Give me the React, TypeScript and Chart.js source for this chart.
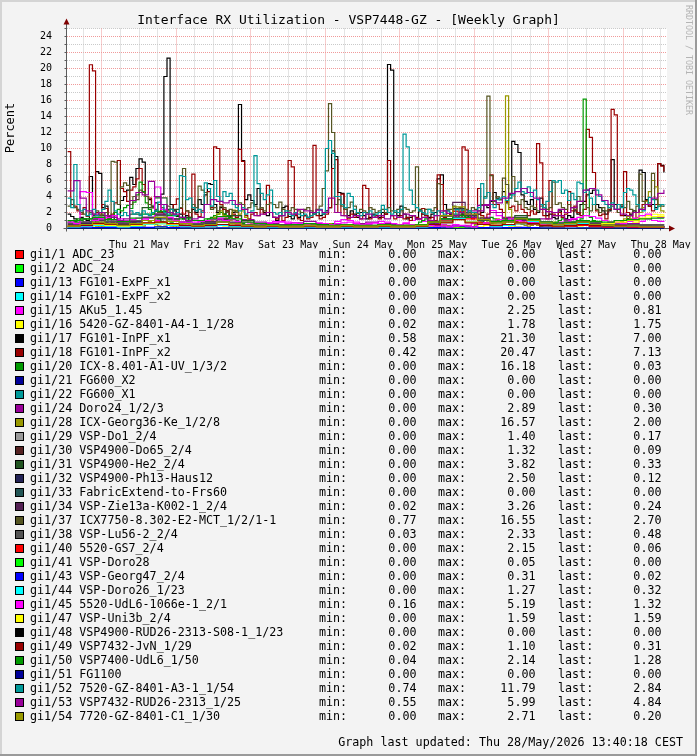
import React, { useEffect, useRef } from "react";
import { Chart, registerables } from "chart.js";

Chart.register(...registerables);

const W = 697;
const H = 756;
const FONT = '"DejaVu Sans Mono", "Liberation Mono", monospace';

const TITLE = "Interface RX Utilization - VSP7448-GZ - [Weekly Graph]";
const Y_LABEL = "Percent";
const WATERMARK = "RRDTOOL / TOBI OETIKER";
const UPDATED = "Graph last updated: Thu 28/May/2026 13:40:18 CEST";

// x axis: hours relative to Thu 21 May 00:00
const X_MIN = -11.2;
const X_MAX = 182;
const DATA_START = -11;
const DATA_SPAN = 192;
const DAY_LABEL_HOURS = [12, 36, 60, 84, 108, 132, 156, 180];
const DAY_LABELS = ["Thu 21 May", "Fri 22 May", "Sat 23 May", "Sun 24 May", "Mon 25 May", "Tue 26 May", "Wed 27 May", "Thu 28 May"];
const Y_TICKS = [0, 2, 4, 6, 8, 10, 12, 14, 16, 18, 20, 22, 24];
const Y_MAX = 25;

// hourly series (193 points from -11h to +181h)
const G17 = [
  1.8, 1.5, 1.2, 1.0, 1.4, 1.2, 1.0, 6.5, 1.6, 7.1, 6.9,
  2.6, 2.8, 1.5, 1.1, 2.0, 1.2, 3.5, 4.0, 4.8, 6.4, 5.5, 7.5, 8.7, 8.3, 4.0, 3.6, 2.8, 3.2, 2.0, 4.3, 19.0, 21.3, 3.0, 2.2,
  1.5, 1.8, 1.2, 1.6, 1.0, 2.4, 2.0, 3.6, 3.0, 4.2, 5.6, 5.5, 3.0, 2.0, 2.6, 1.8, 2.2, 1.5, 2.0, 2.2, 15.5, 8.5, 3.6, 4.2,
  3.5, 3.0, 5.0, 2.4, 2.0, 1.6, 2.0, 1.4, 1.0, 1.6, 2.6, 2.8, 1.5, 1.2, 1.8, 1.4, 2.0, 1.6, 1.4, 2.0, 1.8, 2.0, 1.6, 1.8,
  2.2, 2.6, 9.7, 9.0, 4.5, 4.4, 2.4, 1.6, 2.2, 1.8, 1.4, 2.0, 1.6, 1.2, 1.4, 1.8, 1.6, 1.4, 2.0, 1.8, 20.5, 19.8, 2.0, 1.6,
  2.8, 1.8, 1.2, 1.4, 1.6, 1.2, 2.2, 1.8, 1.6, 1.4, 1.8, 2.0, 6.2, 6.7, 3.0, 1.6, 1.8, 1.4, 1.6, 1.2, 1.8, 1.4, 1.6, 2.0,
  1.4, 1.8, 2.0, 3.0, 2.6, 3.4, 4.5, 3.8, 3.6, 4.6, 3.2, 4.2, 10.9, 10.5, 9.5, 4.2, 3.4, 3.0, 3.6, 2.4, 2.0, 3.8, 2.6, 1.6,
  1.8, 1.4, 1.2, 2.2, 1.4, 1.2, 1.6, 1.4, 2.2, 1.8, 3.0, 3.4, 4.2, 4.4, 4.8, 3.0, 2.6, 2.2, 1.8, 2.2, 8.6, 3.0, 2.4, 2.8,
  1.6, 1.2, 1.8, 2.2, 2.0, 7.3, 7.0, 3.6, 2.8, 3.0, 2.6, 8.1, 7.9, 7.0,
];
const G18 = [
  9.6, 3.0, 2.8, 2.2, 1.8, 2.6, 1.5, 20.47, 19.7, 2.0, 1.8,
  3.0, 2.5, 1.2, 1.8, 3.2, 8.5, 5.0, 4.6, 3.4, 4.8, 5.2, 6.2, 7.5, 5.5, 4.0, 3.8, 2.6, 2.2, 3.0, 2.0, 1.6, 2.2, 1.8, 3.0,
  3.7, 2.5, 1.8, 2.2, 1.4, 6.8, 1.8, 1.5, 2.2, 3.0, 4.6, 2.6, 10.2, 10.0, 3.0, 2.4, 2.2, 1.6, 1.8, 1.4, 9.9, 8.4, 1.6, 1.2,
  1.8, 2.0, 1.6, 2.4, 1.8, 5.4, 2.0, 1.4, 1.2, 1.6, 1.0, 1.4, 8.5, 7.7, 1.6, 1.2, 1.0, 1.6, 1.2, 1.4, 10.4, 1.6, 1.2, 1.4,
  1.8, 2.6, 7.5, 8.6, 2.0, 4.3, 1.6, 1.2, 1.8, 1.4, 1.6, 1.2, 5.4, 5.0, 1.2, 1.4, 1.6, 1.2, 1.4, 1.8, 8.5, 1.6, 1.2, 1.4,
  1.6, 1.2, 1.4, 1.0, 1.6, 1.4, 1.2, 2.5, 1.6, 1.2, 1.4, 1.0, 6.7, 5.5, 1.4, 2.2, 1.6, 1.2, 1.6, 1.2, 10.2, 9.8, 1.6, 1.2,
  1.8, 5.0, 1.6, 1.2, 1.8, 6.7, 3.0, 3.0, 2.4, 2.0, 3.4, 2.6, 2.8, 2.2, 3.0, 2.4, 2.0, 1.6, 2.2, 1.8, 10.6, 8.2, 1.6, 1.2,
  6.0, 1.8, 1.6, 2.0, 1.4, 1.8, 4.6, 2.2, 2.8, 2.0, 1.6, 2.4, 12.4, 11.4, 7.0, 2.2, 1.6, 1.8, 1.2, 2.4, 14.9, 14.2, 2.0, 1.6,
  7.1, 2.0, 1.6, 1.2, 2.0, 2.4, 3.0, 3.5, 2.8, 2.2, 3.0, 8.1, 7.8, 7.13,
];
const G52 = [
  3.8, 2.6, 8.0, 3.0, 2.2, 2.4, 1.6, 1.8, 2.4, 1.6, 2.0,
  2.4, 3.4, 4.8, 3.4, 2.2, 1.8, 1.6, 2.0, 1.6, 2.2, 1.8, 2.0, 1.6, 2.2, 1.8, 1.6, 2.0, 2.2, 3.3, 3.0, 2.0, 1.8, 2.4, 1.6,
  2.0, 6.6, 6.5, 3.6, 3.8, 2.6, 2.2, 2.4, 2.0, 5.7, 5.0, 2.8, 6.0, 4.0, 3.4, 4.6, 4.0, 4.4, 3.0, 2.6, 2.2, 2.6, 1.8, 2.0,
  2.2, 9.1, 5.6, 4.4, 3.6, 4.2, 4.8, 2.0, 1.8, 2.0, 1.6, 2.2, 1.8, 1.6, 2.0, 1.8, 1.6, 1.8, 1.4, 1.6, 1.8, 2.0, 2.4, 1.8,
  10.0, 11.0, 9.4, 4.0, 4.0, 3.0, 2.6, 4.4, 4.0, 2.4, 2.0, 1.6, 2.0, 1.8, 2.2, 1.6, 1.8, 2.0, 2.9, 2.4, 2.0, 1.8, 2.2, 2.0,
  2.4, 11.79, 10.2, 4.8, 3.0, 2.6, 2.2, 2.0, 1.8, 2.4, 2.0, 1.6, 2.2, 2.0, 1.8, 2.2, 2.0, 1.6, 2.4, 2.0, 2.3, 1.8, 2.2, 2.0,
  2.0, 2.6, 5.6, 3.8, 4.5, 3.0, 2.6, 3.6, 3.8, 4.0, 3.5, 3.8, 4.2, 5.0, 5.8, 4.6, 4.4, 5.2, 4.0, 4.8, 3.6, 3.0, 2.6, 3.4,
  4.6, 6.0, 5.8, 6.0, 4.4, 4.8, 3.5, 4.4, 3.6, 5.8, 5.6, 4.5, 4.8, 3.8, 3.0, 4.8, 4.0, 3.4, 3.0, 2.6, 3.2, 2.4, 3.0, 2.6,
  4.5, 5.0, 4.8, 4.2, 3.0, 2.4, 2.2, 3.0, 3.9, 3.6, 2.4, 2.8, 3.0, 2.84,
];
const G37 = [
  2.8, 3.6, 2.6, 2.4, 2.0, 1.8, 1.6, 2.0, 1.8, 2.2, 1.6,
  1.8, 2.0, 1.6, 8.4, 8.3, 3.0, 5.2, 5.7, 5.4, 3.0, 4.0, 3.6, 4.8, 4.5, 4.0, 3.0, 2.6, 2.4, 2.0, 2.6, 2.2, 2.8, 2.4, 1.8,
  2.0, 2.6, 7.5, 2.2, 2.0, 3.0, 2.6, 5.3, 4.8, 4.5, 3.0, 2.4, 2.6, 2.2, 2.8, 2.6, 2.0, 2.4, 2.2, 2.0, 3.2, 3.0, 2.4, 2.6,
  3.2, 2.8, 2.4, 2.6, 2.2, 3.0, 3.2, 3.0, 2.6, 3.3, 2.4, 2.0, 2.2, 2.6, 2.4, 2.2, 2.0, 2.4, 2.6, 2.2, 2.0, 2.4, 2.8, 5.0,
  7.2, 15.6, 12.0, 3.0, 3.6, 2.8, 2.4, 2.6, 3.3, 2.8, 1.9, 2.4, 2.2, 2.0, 2.6, 2.4, 2.0, 2.2, 2.4, 2.0, 2.6, 2.2, 2.0, 2.4,
  2.2, 2.6, 2.4, 2.0, 2.2, 7.7, 2.4, 2.0, 2.4, 2.4, 2.2, 2.6, 5.6, 2.0, 2.2, 2.4, 2.4, 2.8, 2.4, 2.6, 2.2, 2.4, 2.0, 2.6,
  2.4, 2.2, 3.0, 4.0, 16.55, 6.6, 3.4, 4.0, 3.6, 6.3, 5.5, 3.8, 6.5, 3.4, 3.0, 3.6, 2.6, 2.4, 2.8, 2.6, 2.2, 2.8, 3.0, 2.4,
  2.6, 5.8, 3.0, 3.2, 2.6, 2.4, 3.0, 2.6, 2.4, 4.0, 3.4, 3.0, 2.6, 2.2, 3.0, 2.4, 2.0, 2.6, 2.2, 3.0, 2.8, 2.4, 2.0, 3.0,
  2.6, 3.4, 2.4, 2.0, 2.8, 6.8, 3.4, 3.0, 3.2, 6.9, 3.6, 3.0, 2.8, 2.7,
];
const G20 = [
  0.8, 1.0, 0.9, 1.2, 1.0, 0.8, 0.6, 0.9, 1.1, 0.8, 0.6,
  0.5, 0.8, 1.2, 1.6, 2.0, 2.4, 2.2, 2.6, 2.9, 2.5, 3.3, 4.2, 5.8, 4.6, 3.2, 2.4, 1.8, 1.4, 1.2, 0.9, 0.8, 0.6, 0.7, 0.5,
  0.4, 0.5, 0.6, 0.8, 0.6, 0.5, 0.4, 0.6, 0.8, 1.0, 1.2, 1.4, 1.6, 1.8, 2.0, 1.8, 1.6, 1.4, 1.2, 1.0, 0.8, 0.6, 0.5, 0.4,
  0.3, 0.4, 0.3, 0.2, 0.3, 0.4, 0.3, 0.2, 0.3, 0.2, 0.3, 0.4, 0.3, 0.2, 0.2, 0.3, 0.2, 0.3, 0.2, 0.2, 0.3, 0.2, 0.2, 0.3,
  0.4, 0.5, 0.6, 0.4, 0.3, 0.2, 0.3, 0.2, 0.2, 0.3, 0.2, 0.2, 0.3, 0.2, 0.2, 0.2, 0.3, 0.2, 0.2, 0.3, 0.2, 0.2, 0.2, 0.3,
  0.2, 0.3, 0.2, 0.2, 0.3, 0.5, 0.8, 1.0, 1.2, 0.9, 0.7, 0.5, 0.4, 0.3, 0.2, 0.3, 0.2, 0.2, 0.3, 0.2, 0.2, 0.3, 0.2, 0.2,
  0.3, 0.5, 0.8, 1.0, 1.2, 1.4, 1.2, 1.0, 0.8, 1.0, 1.2, 1.4, 1.1, 0.9, 0.7, 0.8, 1.0, 0.8, 0.6, 0.5, 0.4, 0.5, 0.6, 0.5,
  0.4, 0.6, 0.8, 1.0, 1.2, 1.0, 0.8, 0.6, 0.5, 0.7, 1.2, 16.18, 4.8, 1.4, 1.0, 0.8, 0.6, 0.5, 0.4, 0.6, 0.8, 0.7, 0.5, 0.4,
  0.3, 0.4, 0.3, 0.2, 0.3, 0.2, 0.1, 0.2, 0.1, 0.1, 0.1, 0.05, 0.03, 0.03,
];
const G28 = [
  0.2, 0.3, 0.2, 0.4, 0.3, 0.2, 0.3, 0.5, 0.4, 0.3, 0.2,
  0.3, 0.4, 0.6, 0.8, 0.5, 0.4, 0.3, 0.5, 0.8, 1.0, 0.7, 0.5, 0.4, 0.3, 0.6, 0.9, 0.7, 0.5, 0.3, 0.2, 0.3, 0.4, 0.3, 0.2,
  0.3, 0.5, 0.4, 0.3, 0.4, 0.6, 0.5, 0.4, 0.3, 0.5, 0.7, 1.0, 1.4, 1.8, 2.2, 1.6, 1.2, 1.0, 2.3, 2.2, 1.8, 2.2, 1.4, 0.8,
  0.6, 0.4, 0.3, 0.2, 0.3, 0.4, 0.3, 0.2, 0.3, 0.2, 0.2, 0.3, 0.4, 0.3, 0.2, 0.2, 0.3, 0.2, 0.2, 0.3, 0.2, 0.2, 0.3, 0.4,
  0.5, 0.6, 0.4, 0.3, 0.2, 0.3, 0.2, 0.2, 0.3, 0.2, 0.2, 0.3, 0.2, 0.2, 0.3, 0.2, 0.2, 0.3, 0.2, 0.2, 0.3, 0.2, 0.2, 0.3,
  0.2, 0.3, 0.4, 0.3, 0.2, 0.3, 0.2, 0.2, 0.3, 0.2, 0.2, 0.3, 0.2, 0.3, 0.4, 0.3, 0.2, 0.3, 0.2, 0.2, 0.3, 0.2, 0.3, 0.2,
  0.5, 0.8, 1.4, 1.2, 0.8, 0.6, 0.9, 1.2, 0.8, 0.6, 16.57, 2.4, 0.8, 0.6, 0.6, 0.5, 0.4, 0.3, 0.4, 0.5, 0.4, 0.3, 0.4, 0.5,
  0.6, 0.8, 0.5, 0.4, 0.6, 0.8, 0.6, 0.4, 0.3, 0.4, 0.6, 0.5, 0.4, 0.3, 0.5, 0.7, 0.5, 0.4, 0.6, 0.8, 0.6, 0.5, 0.7, 0.9,
  1.2, 1.5, 1.2, 1.0, 1.4, 2.0, 2.6, 3.4, 4.6, 6.0, 5.2, 2.8, 2.2, 2.0,
];

// 2-hourly series (97 points)
const G53 = [
  4.7, 5.99, 3.8, 2.2, 1.8, 2.0,
  1.6, 1.4, 1.0, 1.2, 3.5, 4.5, 4.2, 5.9, 4.0, 3.0, 2.0, 1.8,
  1.4, 1.0, 1.2, 1.4, 3.0, 3.6, 3.4, 3.2, 3.5, 3.0, 2.4, 2.0,
  1.6, 1.8, 2.0, 1.4, 1.6, 2.0, 1.8, 2.4, 2.2, 2.0, 2.3, 2.0,
  3.8, 2.0, 1.6, 1.4, 1.6, 1.2, 1.8, 1.4, 1.6, 1.2, 1.6, 1.4,
  1.8, 1.6, 1.2, 1.4, 1.0, 1.6, 2.2, 1.9, 1.6, 2.0, 1.8, 1.4,
  2.2, 3.0, 3.5, 3.2, 3.8, 4.4, 4.6, 5.0, 4.5, 3.8, 2.4, 2.1,
  2.0, 2.4, 2.0, 2.6, 3.4, 4.8, 5.0, 4.2, 3.5, 3.0, 2.4, 1.8,
  1.6, 2.0, 2.4, 3.0, 3.8, 4.4, 4.84,
];
const G45 = [
  0.8, 0.6, 4.6, 4.5, 1.0, 1.2,
  1.4, 1.6, 1.2, 1.0, 1.1, 1.3, 1.2, 1.0, 5.19, 2.4, 1.4, 1.0,
  0.8, 0.7, 0.8, 0.9, 1.0, 1.1, 1.2, 1.0, 1.1, 0.9, 0.8, 0.7,
  0.6, 0.6, 0.7, 0.8, 0.9, 0.8, 0.7, 0.6, 0.5, 0.6, 0.7, 0.6,
  0.5, 0.6, 0.7, 0.8, 0.6, 0.5, 0.6, 0.7, 0.6, 0.5, 0.4, 0.5,
  0.6, 0.5, 0.4, 0.3, 0.4, 0.3, 0.3, 0.2, 0.3, 0.4, 0.3, 0.2,
  0.5, 0.7, 0.9, 1.1, 1.0, 1.2, 1.0, 0.8, 0.7, 0.6, 0.5, 0.4,
  0.5, 0.7, 0.9, 1.2, 1.4, 1.6, 1.5, 1.3, 1.0, 0.8, 0.7, 0.6,
  0.9, 1.3, 1.6, 1.8, 1.5, 1.4, 1.32,
];
const G15 = [
  0.2, 0.4, 0.6, 0.8, 1.2, 1.4,
  1.2, 0.9, 0.7, 0.6, 0.8, 1.0, 1.2, 1.4, 1.0, 0.7, 0.5, 0.4,
  0.3, 0.4, 0.6, 0.8, 1.0, 1.3, 1.1, 0.9, 0.7, 0.5, 0.4, 0.3,
  0.4, 0.5, 0.7, 0.9, 0.8, 0.6, 0.5, 0.4, 0.3, 0.4, 0.5, 0.4,
  0.6, 0.9, 1.1, 1.0, 0.8, 0.6, 0.5, 0.7, 0.9, 0.8, 0.6, 0.5,
  0.7, 1.0, 1.2, 0.9, 0.7, 0.6, 0.5, 0.4, 0.5, 0.3, 0.4, 0.6,
  0.9, 1.4, 2.25, 1.6, 1.2, 0.9, 0.7, 0.6, 0.8, 0.6, 0.5, 0.4,
  0.6, 0.8, 1.0, 1.2, 0.9, 0.7, 0.6, 0.5, 0.4, 0.6, 0.8, 0.7,
  0.5, 0.6, 0.9, 1.2, 1.0, 0.9, 0.81,
];
const G16 = [
  0.3, 0.2, 0.4, 0.3, 0.2, 0.3,
  0.4, 0.5, 0.3, 0.2, 0.3, 0.4, 0.6, 0.5, 0.3, 0.2, 0.1, 0.1,
  0.2, 0.1, 0.1, 0.2, 0.3, 0.2, 0.1, 0.2, 0.1, 0.1, 0.1, 0.2,
  0.1, 0.1, 0.2, 0.1, 0.1, 0.1, 0.1, 0.1, 0.1, 0.1, 0.2, 0.1,
  0.1, 0.2, 0.1, 0.1, 0.1, 0.1, 0.1, 0.1, 0.1, 0.1, 0.1, 0.1,
  0.1, 0.1, 0.1, 0.1, 0.1, 0.1, 0.1, 0.1, 0.1, 0.1, 0.1, 0.1,
  0.2, 0.4, 0.6, 0.8, 0.5, 0.3, 0.2, 0.1, 0.1, 0.1, 0.1, 0.1,
  0.2, 0.3, 0.4, 0.3, 0.2, 0.1, 0.1, 0.1, 0.1, 0.1, 0.1, 0.2,
  0.4, 0.8, 1.2, 1.6, 1.78, 1.7, 1.75,
];

// 4-hourly series (49 points)
const G24 = [0.6, 0.8, 1.2, 0.9, 0.7, 1.0, 1.4, 1.8, 1.2, 0.8, 0.6, 0.9, 1.3, 1.6, 1.1, 0.8, 0.6, 0.5, 0.7, 0.9, 0.6, 0.5, 0.4, 0.6, 0.8, 0.6, 0.5, 0.4, 0.5, 0.7, 0.9, 1.4, 2.2, 2.89, 2.0, 1.4, 1.0, 0.8, 1.2, 1.6, 1.1, 0.8, 0.6, 0.5, 0.7, 0.6, 0.4, 0.3, 0.3];
const G29 = [0.3, 0.4, 0.5, 0.4, 0.3, 0.5, 0.7, 0.6, 0.4, 0.3, 0.2, 0.3, 0.4, 0.3, 0.2, 0.2, 0.3, 0.2, 0.2, 0.3, 0.2, 0.2, 0.3, 0.2, 0.2, 0.3, 0.2, 0.2, 0.3, 0.5, 0.8, 1.4, 0.9, 0.6, 0.4, 0.5, 0.7, 0.6, 0.4, 0.3, 0.4, 0.5, 0.3, 0.2, 0.3, 0.2, 0.2, 0.2, 0.17];
const G30 = [0.2, 0.3, 0.4, 0.3, 0.2, 0.3, 0.5, 0.7, 0.5, 0.3, 0.2, 0.3, 0.4, 0.3, 0.2, 0.1, 0.2, 0.1, 0.1, 0.2, 0.1, 0.1, 0.2, 0.1, 0.1, 0.2, 0.1, 0.1, 0.2, 0.4, 0.7, 1.32, 0.8, 0.5, 0.3, 0.4, 0.6, 0.5, 0.3, 0.2, 0.3, 0.4, 0.2, 0.1, 0.2, 0.1, 0.1, 0.1, 0.09];
const G31 = [0.8, 1.2, 1.6, 1.4, 1.0, 1.8, 2.6, 3.82, 2.4, 1.4, 1.0, 0.8, 1.2, 1.6, 1.0, 0.6, 0.5, 0.4, 0.5, 0.6, 0.4, 0.4, 0.5, 0.4, 0.3, 0.5, 0.4, 0.3, 0.4, 0.8, 1.2, 1.8, 1.4, 1.0, 0.8, 1.2, 1.6, 1.2, 0.8, 0.6, 0.8, 1.0, 0.7, 0.5, 0.6, 0.5, 0.4, 0.3, 0.33];
const G32 = [0.4, 0.6, 0.8, 0.6, 0.5, 0.7, 1.0, 1.2, 0.9, 0.6, 0.5, 0.6, 0.8, 0.6, 0.4, 0.3, 0.4, 0.3, 0.3, 0.4, 0.3, 0.3, 0.4, 0.3, 0.3, 0.4, 0.3, 0.3, 0.4, 0.7, 1.2, 2.5, 1.6, 1.0, 0.7, 0.8, 1.1, 0.9, 0.6, 0.5, 0.6, 0.7, 0.5, 0.3, 0.4, 0.3, 0.2, 0.2, 0.12];
const G34 = [0.5, 0.7, 1.0, 0.8, 0.6, 0.9, 1.4, 1.8, 1.2, 0.8, 0.6, 0.8, 1.1, 0.8, 0.5, 0.4, 0.5, 0.4, 0.4, 0.5, 0.4, 0.3, 0.5, 0.4, 0.3, 0.5, 0.4, 0.3, 0.5, 0.9, 1.6, 3.26, 2.0, 1.3, 0.9, 1.0, 1.4, 1.1, 0.8, 0.6, 0.8, 0.9, 0.6, 0.4, 0.5, 0.4, 0.3, 0.3, 0.24];
const G38 = [0.6, 0.8, 1.1, 0.9, 0.7, 1.0, 1.3, 1.6, 1.1, 0.8, 0.6, 0.7, 0.9, 0.7, 0.5, 0.4, 0.5, 0.4, 0.4, 0.5, 0.4, 0.4, 0.5, 0.4, 0.4, 0.5, 0.4, 0.4, 0.5, 0.9, 1.5, 2.33, 1.7, 1.1, 0.8, 0.9, 1.3, 1.0, 0.8, 0.6, 0.7, 0.8, 0.7, 0.6, 0.6, 0.5, 0.5, 0.5, 0.48];
const G40 = [0.2, 0.3, 0.5, 0.4, 0.3, 0.4, 0.6, 0.8, 0.5, 0.3, 0.2, 0.3, 0.5, 0.4, 0.2, 0.1, 0.2, 0.1, 0.1, 0.2, 0.1, 0.1, 0.2, 0.1, 0.1, 0.2, 0.1, 0.1, 0.2, 0.5, 1.0, 2.15, 1.2, 0.7, 0.4, 0.5, 0.8, 0.6, 0.4, 0.2, 0.3, 0.4, 0.2, 0.1, 0.2, 0.1, 0.1, 0.1, 0.06];
const G41 = [0.01, 0.02, 0.03, 0.02, 0.01, 0.02, 0.03, 0.05, 0.03, 0.02, 0.01, 0.01, 0.02, 0.01, 0.01, 0, 0.01, 0, 0, 0.01, 0, 0, 0.01, 0, 0, 0.01, 0, 0, 0.01, 0.02, 0.03, 0.04, 0.03, 0.02, 0.01, 0.02, 0.03, 0.02, 0.01, 0.01, 0.01, 0.02, 0.01, 0, 0.01, 0, 0, 0, 0];
const G43 = [0.05, 0.08, 0.12, 0.1, 0.06, 0.1, 0.15, 0.2, 0.12, 0.08, 0.05, 0.06, 0.09, 0.06, 0.04, 0.03, 0.04, 0.03, 0.02, 0.04, 0.03, 0.02, 0.04, 0.03, 0.02, 0.04, 0.03, 0.02, 0.04, 0.1, 0.18, 0.31, 0.2, 0.12, 0.08, 0.1, 0.15, 0.12, 0.08, 0.05, 0.06, 0.08, 0.05, 0.03, 0.04, 0.03, 0.02, 0.02, 0.02];
const G44 = [0.2, 0.3, 0.4, 0.3, 0.2, 0.3, 0.5, 0.6, 0.4, 0.3, 0.2, 0.3, 0.4, 0.3, 0.2, 0.1, 0.2, 0.1, 0.1, 0.2, 0.1, 0.1, 0.2, 0.1, 0.1, 0.2, 0.1, 0.1, 0.2, 0.5, 0.9, 1.27, 0.8, 0.5, 0.3, 0.4, 0.6, 0.9, 0.7, 0.4, 0.5, 0.6, 0.5, 0.3, 0.4, 0.3, 0.3, 0.3, 0.32];
const G47 = [0.3, 0.4, 0.5, 0.4, 0.3, 0.4, 0.6, 0.7, 0.5, 0.4, 0.3, 0.4, 0.5, 0.4, 0.3, 0.2, 0.3, 0.2, 0.2, 0.3, 0.2, 0.2, 0.3, 0.2, 0.2, 0.3, 0.2, 0.2, 0.3, 0.5, 0.8, 1.1, 0.8, 0.5, 0.4, 0.5, 0.7, 0.6, 0.4, 0.3, 0.4, 0.5, 0.4, 0.6, 0.8, 1.0, 1.3, 1.5, 1.59];
const G49 = [0.3, 0.4, 0.6, 0.5, 0.4, 0.5, 0.7, 0.8, 0.6, 0.4, 0.3, 0.4, 0.5, 0.4, 0.3, 0.2, 0.3, 0.2, 0.2, 0.3, 0.2, 0.2, 0.3, 0.2, 0.2, 0.3, 0.2, 0.2, 0.3, 0.5, 0.8, 1.1, 0.7, 0.5, 0.4, 0.5, 0.7, 0.6, 0.4, 0.3, 0.4, 0.5, 0.4, 0.3, 0.4, 0.3, 0.3, 0.3, 0.31];
const G50 = [1.0, 1.2, 1.4, 1.1, 0.9, 1.3, 1.8, 2.14, 1.6, 1.2, 1.0, 1.2, 1.5, 1.2, 0.8, 0.6, 0.5, 0.4, 0.5, 0.6, 0.5, 0.4, 0.5, 0.4, 0.4, 0.5, 0.4, 0.4, 0.5, 0.8, 1.2, 1.6, 1.4, 1.1, 0.9, 1.0, 1.3, 1.1, 0.8, 0.7, 0.8, 1.0, 0.9, 0.8, 1.0, 1.1, 1.2, 1.3, 1.28];
const G54 = [0.3, 0.5, 0.8, 0.6, 0.4, 0.6, 1.0, 1.4, 0.9, 0.6, 0.4, 0.5, 0.8, 0.6, 0.4, 0.3, 0.4, 0.3, 0.3, 0.4, 0.3, 0.3, 0.4, 0.3, 0.3, 0.4, 0.3, 0.3, 0.4, 0.8, 1.6, 2.71, 1.8, 1.1, 0.7, 0.8, 1.2, 1.0, 0.7, 0.5, 0.6, 0.8, 0.5, 0.4, 0.3, 0.3, 0.2, 0.2, 0.2];

// idle interfaces
const ZERO = [0, 0];

const SERIES_NAMES = [
  "gi1/1 ADC_23", "gi1/2 ADC_24", "gi1/13 FG101-ExPF_x1", "gi1/14 FG101-ExPF_x2", "gi1/15 AKu5_1.45",
  "gi1/16 5420-GZ-8401-A4-1_1/28", "gi1/17 FG101-InPF_x1", "gi1/18 FG101-InPF_x2", "gi1/20 ICX-8.401-A1-UV_1/3/2",
  "gi1/21 FG600_X2", "gi1/22 FG600_X1", "gi1/24 Doro24_1/2/3", "gi1/28 ICX-Georg36-Ke_1/2/8", "gi1/29 VSP-Do1_2/4",
  "gi1/30 VSP4900-Do65_2/4", "gi1/31 VSP4900-He2_2/4", "gi1/32 VSP4900-Ph13-Haus12", "gi1/33 FabricExtend-to-Frs60",
  "gi1/34 VSP-Zie13a-K002-1_2/4", "gi1/37 ICX7750-8.302-E2-MCT_1/2/1-1", "gi1/38 VSP-Lu56-2_2/4", "gi1/40 5520-GS7_2/4",
  "gi1/41 VSP-Doro28", "gi1/43 VSP-Georg47_2/4", "gi1/44 VSP-Doro26_1/23", "gi1/45 5520-UdL6-1066e-1_2/1",
  "gi1/47 VSP-Uni3b_2/4", "gi1/48 VSP4900-RUD26-2313-S08-1_1/23", "gi1/49 VSP7432-JvN_1/29", "gi1/50 VSP7400-UdL6_1/50",
  "gi1/51 FG1100", "gi1/52 7520-GZ-8401-A3-1_1/54", "gi1/53 VSP7432-RUD26-2313_1/25", "gi1/54 7720-GZ-8401-C1_1/30",
];
const SERIES_COLORS = [
  "#FF0000", "#00FF00", "#0000FF", "#00FFFF", "#FF00FF", "#FFFF00", "#000000", "#990000", "#009900",
  "#000099", "#009999", "#990099", "#999900", "#999999", "#552222", "#225522", "#222255", "#225555",
  "#552255", "#555522", "#555555", "#FF0000", "#00FF00", "#0000FF", "#00FFFF", "#FF00FF", "#FFFF00",
  "#000000", "#990000", "#009900", "#000099", "#009999", "#990099", "#999900",
];
const SERIES_DATA = [
  ZERO, ZERO, ZERO, ZERO, G15, G16, G17, G18, G20, ZERO, ZERO, G24, G28, G29, G30, G31, G32, ZERO,
  G34, G37, G38, G40, G41, G43, G44, G45, G47, ZERO, G49, G50, ZERO, G52, G53, G54,
];
const STAT_MIN = [0, 0, 0, 0, 0, 0.02, 0.58, 0.42, 0, 0, 0, 0, 0, 0, 0, 0, 0, 0, 0.02, 0.77, 0.03, 0, 0, 0, 0, 0.16, 0, 0, 0.02, 0.04, 0, 0.74, 0.55, 0];
const STAT_MAX = [0, 0, 0, 0, 2.25, 1.78, 21.3, 20.47, 16.18, 0, 0, 2.89, 16.57, 1.4, 1.32, 3.82, 2.5, 0, 3.26, 16.55, 2.33, 2.15, 0.05, 0.31, 1.27, 5.19, 1.59, 0, 1.1, 2.14, 0, 11.79, 5.99, 2.71];
const STAT_LAST = [0, 0, 0, 0, 0.81, 1.75, 7.0, 7.13, 0.03, 0, 0, 0.3, 2.0, 0.17, 0.09, 0.33, 0.12, 0, 0.24, 2.7, 0.48, 0.06, 0, 0.02, 0.32, 1.32, 1.59, 0, 0.31, 1.28, 0, 2.84, 4.84, 0.2];

const LEGEND_TOP = 254.5;
const LEGEND_ROW = 14;
const LEGEND_FONT = `11.7px ${FONT}`;

const toPoints = (vals: number[]) => {
  const step = DATA_SPAN / (vals.length - 1);
  return vals.map((v, i) => ({ x: DATA_START + i * step, y: v }));
};

const rrdPlugin = {
  id: "rrdLook",
  beforeDraw(chart: any) {
    const { ctx, chartArea: a } = chart;
    const xs = chart.scales.x;
    const ys = chart.scales.y;
    ctx.save();
    ctx.fillStyle = "#f3f3f3";
    ctx.fillRect(0, 0, W, H);
    ctx.fillStyle = "#d4d4d4";
    ctx.fillRect(0, 0, W, 2);
    ctx.fillRect(0, 0, 2, H);
    ctx.fillStyle = "#9a9a9a";
    ctx.fillRect(0, H - 2, W, 2);
    ctx.fillRect(W - 2, 0, 2, H);
    ctx.fillStyle = "#ffffff";
    ctx.fillRect(a.left, a.top, a.right - a.left, a.bottom - a.top);

    ctx.lineWidth = 1;
    ctx.setLineDash([1, 1]);
    for (let v = 1; v <= Y_MAX; v++) {
      const py = Math.floor(ys.getPixelForValue(v)) + 0.5;
      ctx.strokeStyle = v % 2 === 0 ? "#f09a9a" : "#cacaca";
      ctx.beginPath();
      ctx.moveTo(a.left, py);
      ctx.lineTo(a.right, py);
      ctx.stroke();
    }
    for (let h = -6; h <= 180; h += 6) {
      const px = Math.floor(xs.getPixelForValue(h)) + 0.5;
      ctx.strokeStyle = h % 24 === 0 ? "#f09a9a" : "#cacaca";
      ctx.beginPath();
      ctx.moveTo(px, a.top);
      ctx.lineTo(px, a.bottom);
      ctx.stroke();
    }
    ctx.setLineDash([]);

    // title
    ctx.fillStyle = "#000";
    ctx.font = `13px ${FONT}`;
    ctx.textAlign = "center";
    ctx.textBaseline = "alphabetic";
    ctx.fillText(TITLE, W / 2, 23.5);

    // vertical axis label
    ctx.save();
    ctx.translate(11, 128);
    ctx.rotate(-Math.PI / 2);
    ctx.font = `12px ${FONT}`;
    ctx.textBaseline = "middle";
    ctx.fillText(Y_LABEL, 0, 0);
    ctx.restore();

    // watermark
    ctx.save();
    ctx.translate(688, 5);
    ctx.rotate(Math.PI / 2);
    ctx.font = `8.3px ${FONT}`;
    ctx.fillStyle = "#b4b4b4";
    ctx.textAlign = "left";
    ctx.textBaseline = "middle";
    ctx.fillText(WATERMARK, 0, 0);
    ctx.restore();
    ctx.restore();
  },
  beforeDatasetsDraw(chart: any) {
    const { ctx, chartArea: a } = chart;
    const xs = chart.scales.x;
    const ys = chart.scales.y;
    ctx.save();
    ctx.strokeStyle = "#5a5a5a";
    ctx.lineWidth = 1;
    const ax = Math.floor(a.left) - 0.5;
    const ay = Math.floor(a.bottom) + 0.5;
    ctx.beginPath();
    ctx.moveTo(ax, ay + 3);
    ctx.lineTo(ax, a.top - 6);
    ctx.moveTo(ax - 3, ay);
    ctx.lineTo(a.right + 4, ay);
    for (let v = 1; v <= Y_MAX; v++) {
      const py = Math.floor(ys.getPixelForValue(v)) + 0.5;
      ctx.moveTo(ax - 2, py);
      ctx.lineTo(ax, py);
    }
    for (let h = -6; h <= 180; h += 6) {
      const px = Math.floor(xs.getPixelForValue(h)) + 0.5;
      ctx.moveTo(px, ay);
      ctx.lineTo(px, ay + 2);
    }
    ctx.stroke();
    ctx.fillStyle = "#7f0000";
    ctx.beginPath();
    ctx.moveTo(ax, a.top - 10);
    ctx.lineTo(ax - 3, a.top - 4);
    ctx.lineTo(ax + 3, a.top - 4);
    ctx.closePath();
    ctx.fill();
    ctx.beginPath();
    ctx.moveTo(a.right + 8, ay);
    ctx.lineTo(a.right + 2, ay - 3);
    ctx.lineTo(a.right + 2, ay + 3);
    ctx.closePath();
    ctx.fill();
    ctx.restore();
  },
  afterDraw(chart: any) {
    const { ctx } = chart;
    ctx.save();
    ctx.font = LEGEND_FONT;
    ctx.textBaseline = "middle";
    SERIES_NAMES.forEach((name, i) => {
      const cy = LEGEND_TOP + i * LEGEND_ROW;
      ctx.fillStyle = SERIES_COLORS[i];
      ctx.fillRect(15, cy - 4.5, 9, 9);
      ctx.strokeStyle = "#000";
      ctx.lineWidth = 1;
      ctx.strokeRect(15.5, cy - 4, 8, 8);
      ctx.fillStyle = "#000";
      ctx.textAlign = "left";
      ctx.fillText(name, 30, cy);
      ctx.fillText("min:", 319, cy);
      ctx.fillText("max:", 438, cy);
      ctx.fillText("last:", 558, cy);
      ctx.textAlign = "right";
      ctx.fillText(STAT_MIN[i].toFixed(2), 416.5, cy);
      ctx.fillText(STAT_MAX[i].toFixed(2), 535.5, cy);
      ctx.fillText(STAT_LAST[i].toFixed(2), 661.5, cy);
    });
    ctx.textAlign = "right";
    ctx.fillText(UPDATED, 683, 743);
    ctx.restore();
  },
};

export default function App() {
  const ref = useRef<HTMLCanvasElement | null>(null);
  useEffect(() => {
    if (!ref.current) return;
    const n = SERIES_DATA.length;
    const datasets = SERIES_DATA.map((vals, i) => ({
      label: SERIES_NAMES[i],
      data: toPoints(vals),
      borderColor: SERIES_COLORS[i],
      backgroundColor: SERIES_COLORS[i],
      borderWidth: 1.2,
      pointRadius: 0,
      stepped: "before" as const,
      fill: false,
      order: n - i,
    }));
    const chart = new Chart(ref.current, {
      type: "line",
      data: { datasets },
      options: {
        animation: false,
        responsive: false,
        devicePixelRatio: 1,
        events: [],
        layout: { padding: { left: 0, right: 30, top: 28.5, bottom: 507.5 } },
        plugins: { legend: { display: false }, tooltip: { enabled: false }, title: { display: false } },
        scales: {
          x: {
            type: "linear",
            min: X_MIN,
            max: X_MAX,
            grid: { display: false },
            border: { display: false },
            afterBuildTicks: (s: any) => {
              s.ticks = DAY_LABEL_HOURS.map((v) => ({ value: v }));
            },
            ticks: {
              autoSkip: false,
              maxRotation: 0,
              minRotation: 0,
              padding: 3,
              color: "#000",
              font: { family: FONT, size: 10 },
              callback: (_v: any, i: number) => DAY_LABELS[i],
            },
            afterFit: (s: any) => {
              s.height = 20;
              s.paddingLeft = 0;
              s.paddingRight = 0;
            },
          },
          y: {
            type: "linear",
            min: 0,
            max: Y_MAX,
            grid: { display: false },
            border: { display: false },
            afterBuildTicks: (s: any) => {
              s.ticks = Y_TICKS.map((v) => ({ value: v }));
            },
            ticks: {
              padding: 7,
              color: "#000",
              font: { family: FONT, size: 10 },
              callback: (v: any) => String(v),
            },
            afterFit: (s: any) => {
              s.width = 67;
              s.paddingTop = 0;
              s.paddingBottom = 0;
            },
          },
        },
      } as any,
      plugins: [rrdPlugin],
    });
    return () => chart.destroy();
  }, []);
  return (
    <div style={{ position: "absolute", left: 0, top: 0, width: W, height: H }}>
      <canvas ref={ref} width={W} height={H} style={{ width: W, height: H, display: "block" }} />
    </div>
  );
}
